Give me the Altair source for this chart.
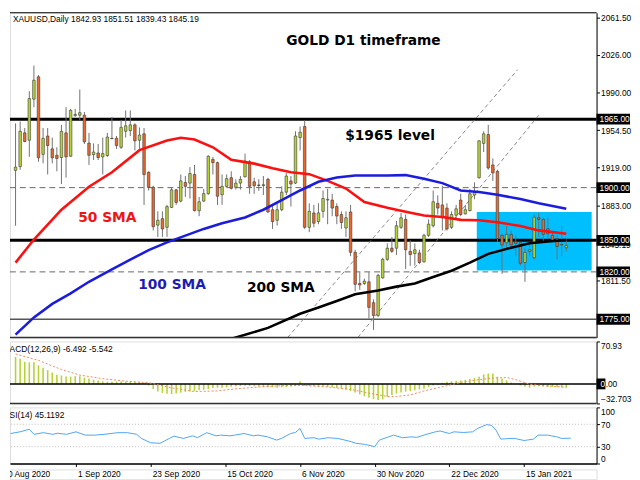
import altair as alt
import pandas as pd

# ---------------- values ----------------
# daily candles, 12 Aug 2020 (index 0) ... last bar (index 120)
opens = [1916.4, 1920.0, 1952.0, 1945.0, 1984.0, 2005.2, 1931.6, 1949.0, 1936.8, 1930.7,
         1928.6, 1952.0, 1929.8, 1968.5, 1968.8, 1968.8, 1942.3, 1931.3, 1932.9, 1929.2,
         1930.4, 1946.9, 1946.9, 1938.3, 1953.5, 1954.1, 1959.6, 1945.0, 1951.1, 1914.6,
         1900.3, 1864.4, 1870.5, 1862.3, 1881.2, 1897.9, 1887.2, 1904.9, 1904.3, 1912.5,
         1878.1, 1887.2, 1894.2, 1926.8, 1923.7, 1893.3, 1901.2, 1909.4, 1900.3, 1904.3,
         1910.4, 1924.6, 1905.5, 1902.5, 1902.0, 1907.9, 1879.0, 1869.0, 1879.0, 1895.7,
         1906.4, 1904.3, 1947.5, 1958.0, 1862.3, 1876.0, 1867.8, 1877.5, 1888.2, 1888.2,
         1882.1, 1874.5, 1861.7, 1876.9, 1838.6, 1809.0, 1809.0, 1810.6, 1790.8, 1778.7,
         1814.3, 1831.9, 1842.5, 1842.5, 1862.3, 1869.9, 1839.5, 1837.4, 1838.0, 1829.5,
         1854.7, 1863.8, 1885.1, 1883.6, 1880.6, 1862.3, 1873.8, 1888.2, 1875.1, 1878.1,
         1893.0, 1909.4, 1942.0, 1950.5, 1921.6, 1915.5, 1854.7, 1847.7, 1855.6, 1848.6,
         1847.7, 1828.9, 1839.5, 1833.4, 1871.4, 1869.9, 1860.8, 1854.7, 1851.7, 1845.6,
         1842.93]
highs = [1961.0, 1962.7, 1956.6, 1991.6, 2015.9, 2006.8, 1956.6, 1956.6, 1947.5, 1938.3,
         1959.6, 1976.4, 1974.8, 1974.8, 1993.1, 1971.8, 1952.0, 1942.0, 1941.4, 1947.5,
         1952.0, 1967.2, 1949.0, 1964.2, 1973.3, 1973.3, 1961.1, 1957.2, 1956.6, 1915.5,
         1901.8, 1877.5, 1877.5, 1883.6, 1900.3, 1898.8, 1912.5, 1911.0, 1919.5, 1921.6,
         1891.2, 1898.8, 1930.7, 1929.2, 1924.6, 1912.5, 1912.5, 1915.5, 1907.9, 1911.0,
         1932.3, 1926.2, 1909.4, 1908.0, 1911.0, 1909.4, 1883.6, 1885.0, 1901.2, 1914.0,
         1911.0, 1953.5, 1958.0, 1964.0, 1885.1, 1883.6, 1885.1, 1897.3, 1898.8, 1894.2,
         1885.1, 1877.5, 1877.5, 1883.6, 1841.0, 1819.7, 1813.6, 1819.7, 1793.9, 1818.2,
         1833.4, 1847.1, 1853.2, 1868.4, 1876.0, 1874.5, 1850.1, 1847.0, 1841.0, 1856.2,
         1869.9, 1897.3, 1892.7, 1901.8, 1885.1, 1877.5, 1883.6, 1894.2, 1883.6, 1898.8,
         1905.0, 1945.0, 1953.5, 1959.6, 1927.7, 1917.0, 1856.2, 1863.8, 1859.3, 1854.7,
         1848.6, 1842.5, 1847.1, 1874.5, 1876.0, 1871.4, 1871.4, 1857.7, 1854.7, 1863.8,
         1851.51]
lows = [1863.8, 1917.0, 1943.0, 1929.2, 1976.4, 1924.6, 1923.1, 1912.5, 1923.1, 1915.5,
        1903.4, 1909.5, 1929.2, 1967.2, 1964.2, 1941.4, 1921.6, 1926.2, 1926.2, 1912.5,
        1929.2, 1946.0, 1936.8, 1936.8, 1947.5, 1949.0, 1935.3, 1936.8, 1883.6, 1897.3,
        1859.3, 1853.2, 1853.2, 1853.2, 1880.6, 1883.6, 1886.0, 1891.2, 1889.7, 1877.5,
        1872.9, 1886.6, 1893.3, 1912.5, 1883.6, 1883.6, 1900.3, 1898.2, 1898.2, 1898.2,
        1909.5, 1894.2, 1894.2, 1897.0, 1893.0, 1876.0, 1860.8, 1864.0, 1877.5, 1893.0,
        1882.0, 1903.4, 1935.3, 1860.8, 1857.7, 1862.3, 1865.3, 1871.4, 1865.3, 1872.9,
        1865.3, 1860.8, 1853.2, 1834.9, 1801.5, 1803.0, 1807.6, 1775.6, 1765.0, 1777.2,
        1813.6, 1830.4, 1838.0, 1836.0, 1860.8, 1822.8, 1825.8, 1826.0, 1827.3, 1828.9,
        1853.2, 1862.3, 1874.5, 1859.3, 1859.3, 1860.8, 1869.9, 1872.9, 1874.5, 1877.5,
        1889.0, 1908.5, 1933.8, 1917.0, 1906.4, 1848.6, 1818.2, 1841.0, 1841.0, 1834.9,
        1825.8, 1810.6, 1834.9, 1831.9, 1853.2, 1848.6, 1851.7, 1848.6, 1831.9, 1834.9,
        1839.43]
closes = [1919.5, 1953.5, 1943.8, 1984.6, 2002.0, 1928.3, 1946.8, 1939.9, 1928.3, 1927.7,
          1953.5, 1929.2, 1973.3, 1969.5, 1971.2, 1943.5, 1930.7, 1933.8, 1928.6, 1932.3,
          1948.0, 1946.5, 1939.9, 1957.2, 1958.7, 1959.6, 1944.4, 1949.9, 1912.5, 1900.3,
          1862.9, 1869.0, 1860.8, 1882.0, 1897.9, 1886.0, 1906.4, 1901.2, 1913.4, 1878.1,
          1886.6, 1894.3, 1929.8, 1923.7, 1891.8, 1901.2, 1908.5, 1899.4, 1904.3, 1907.9,
          1925.3, 1901.2, 1901.8, 1902.1, 1902.8, 1876.9, 1867.8, 1879.0, 1895.7, 1911.0,
          1903.4, 1949.0, 1952.6, 1862.3, 1877.5, 1866.2, 1876.0, 1889.7, 1888.9, 1880.6,
          1873.0, 1866.9, 1871.4, 1838.6, 1808.2, 1807.6, 1811.2, 1786.3, 1778.7, 1816.7,
          1831.9, 1842.5, 1839.5, 1863.8, 1871.4, 1841.0, 1836.5, 1841.0, 1828.9, 1854.7,
          1865.3, 1886.6, 1880.6, 1871.4, 1860.8, 1874.5, 1879.9, 1874.5, 1879.0, 1894.2,
          1896.0, 1944.4, 1951.1, 1918.6, 1914.0, 1851.7, 1845.6, 1855.6, 1845.6, 1847.0,
          1828.2, 1838.6, 1841.0, 1872.0, 1869.9, 1855.6, 1856.2, 1850.1, 1844.1, 1846.0,
          1845.19]

# moving averages (bar index, price)
sma50_idx = [0, 4, 10, 16, 21, 27, 33, 36, 39, 43, 47, 52, 56, 60, 64, 68, 72, 76, 81, 85,
             89, 93, 97, 101, 105, 110, 114, 120]
sma50_val = [1828.8, 1850.7, 1879.0, 1900.9, 1914.6, 1935.6, 1944.7, 1947.4, 1945.6, 1938.3,
             1926.5, 1922.8, 1918.3, 1914.6, 1912.8, 1906.4, 1899.1, 1886.3, 1880.8, 1877.2,
             1873.5, 1872.2, 1869.4, 1869.0, 1867.2, 1863.5, 1859.4, 1856.2]
sma100_idx = [0, 4, 8, 12, 16, 21, 25, 29, 33, 37, 41, 45, 50, 54, 58, 62, 66, 70, 74, 81,
              85, 89, 93, 97, 101, 105, 110, 114, 120]
sma100_val = [1760.4, 1776.8, 1789.6, 1799.6, 1810.6, 1822.5, 1831.6, 1840.7, 1848.0, 1854.4,
              1860.8, 1866.2, 1871.7, 1879.0, 1888.1, 1897.3, 1905.5, 1909.6, 1911.6, 1911.6,
              1911.9, 1908.5, 1904.3, 1897.3, 1895.9, 1893.3, 1889.1, 1885.1, 1879.9]
sma200_idx = [45, 48, 55, 62, 66, 70, 74, 79, 83, 87, 91, 95, 99, 103, 108, 112, 116, 120]
sma200_val = [1754.0, 1757.7, 1766.8, 1780.2, 1786.2, 1792.3, 1798.7, 1802.4, 1806.0, 1809.0,
              1815.2, 1821.1, 1828.8, 1837.1, 1843.0, 1847.1, 1848.9, 1850.3]

# MACD(12,26,9): histogram per bar, signal line points
macd_hist = [45, 42, 37, 36, 36, 31, 27, 23, 19, 15.5,
             14, 12.5, 12.2, 12.8, 12.8, 10.5, 9, 7, 5.5, 4.3,
             3.6, 3.6, 4, 4.5, 3.8, 3.6, 3.6, 3.2, 1.8, -2.5,
             -8.5, -12.5, -15, -16.3, -16.8, -16, -14.5, -13.3, -12.8, -11.8,
             -10.8, -9.8, -8.5, -6.8, -6.6, -6.6, -5.8, -4.8, -4.2, -3.3,
             -3.1, -3.4, -4.0, -4.6, -5.4, -5.4, -5.8, -6.4, -5.6, -5.1,
             -4.3, -3.4, 4.6, -3.2, -3.6, -4.1, -4.6, -4.8, -5.1, -5.8,
             -6.8, -8.0, -9.6, -11.8, -14.5, -17.5, -20.6, -23.2, -25.6, -27.0,
             -26.0, -21.5, -18.6, -16.0, -14.5, -13.0, -11.8, -10.4, -9.3, -7.9,
             -5.5, -2.8, -1.2, 1.8, 3.4, 4.4, 5.0, 5.8, 6.8, 8.2,
             9.8, 12.0, 16.0, 17.3, 17.3, 12.0, 9.0, 5.8, 2.5, -0.6,
             -2.6, -4.6, -6.4, -4.4, -4.1, -4.4, -5.0, -5.1, -5.5, -6.0,
             -6.492]
signal_idx = [0, 5, 10, 14, 19, 24, 29, 34, 39, 44, 48, 53, 58, 63, 68, 73, 78, 81, 83, 86,
              89, 94, 97, 100, 104, 107, 109, 112, 115, 120]
signal_val = [50, 39.3, 24, 14.8, 8.7, 4.6, 2, -6.6, -12.8, -11.7, -8.2, -5.1, -3.1, -2.6,
              -5.1, -9.2, -16.8, -21, -21, -18.4, -11.7, -3.1, 2.6, 6.1, 9.7, 10.7, 7.1,
              -0.5, -3.1, -5.542]

# RSI(14)
rsi_idx = [0, 2, 4, 5, 7, 9, 10, 12, 14, 16, 18, 20, 23, 25, 27, 28, 30, 32, 34, 35,
           37, 39, 40, 42, 44, 45, 47, 48, 50, 52, 53, 55, 57, 58, 60, 61, 62, 63, 65, 66,
           68, 70, 71, 73, 74, 76, 78, 79, 81, 82, 84, 86, 87, 89, 91, 92, 94, 95, 97, 99,
           100, 102, 103, 104, 105, 107, 108, 110, 112, 113, 115, 117, 118, 120]
rsi_val = [53.5, 56.5, 61, 52, 55, 52, 54, 52, 56.5, 50.6, 50.6, 52, 55, 55, 52, 44.7, 37, 36,
           44.7, 48.8, 44.7, 49.4, 46, 55, 49.4, 50.6, 49.4, 50.6, 53.5, 49.4, 50.6, 47.6,
           41.8, 44.7, 53.5, 55.3, 62.4, 44.7, 46, 43.5, 46, 44.7, 43, 38.8, 36, 34, 30, 41.8,
           47.6, 50.6, 46, 47.6, 46.5, 51.8, 56.5, 58, 53.5, 56.5, 55.3, 56.5, 62.4, 69.4, 68,
           59.4, 43.5, 44.7, 44.7, 41, 43.5, 50.6, 50.6, 47.6, 44.7, 45.1192]

# horizontal levels and objects
thick_levels = [1965, 1850]
dashed_levels = [1900, 1820]
thin_levels = [1775]
boxed_levels = [1965, 1900, 1850, 1820, 1775]
price_ticks = [2061.5, 2026, 1990, 1954.5, 1919, 1883, 1811.5]
macd_ticks = [70.93, 0, -32.703]
rsi_ticks = [100, 70, 30, 0]
rsi_levels = [70, 30]
channel_id = ["upper", "upper", "lower", "lower"]
channel_idx = [59.3, 109.4, 74.6, 114.4]
channel_val = [1757.7, 2012.0, 1757.7, 1970.9]
zone_idx = [100.5, 125.53]
zone_val = [1876.9, 1821.3]
date_idx = [-2, 14, 30, 46, 62, 78, 94, 110]
date_labels = ["10 Aug 2020", "1 Sep 2020", "23 Sep 2020", "15 Oct 2020",
               "6 Nov 2020", "30 Nov 2020", "22 Dec 2020", "15 Jan 2021"]

# ---------------- layout ----------------
W = 596
H_MAIN, H_MACD, H_RSI, H_DATE = 330, 63, 57, 10
X_DOM = [-0.145, 125.53]
Y_DOM = [1757.67, 2066.06]
MACD_DOM = [-32.703, 70.93]
RSI_DOM = [0, 100]
FONT = "Liberation Sans"
FS = 8.5
UP, DOWN = "#b6d336", "#e9692c"

xsc = alt.Scale(domain=X_DOM, nice=False, zero=False)
ysc = alt.Scale(domain=Y_DOM, nice=False, zero=False)
msc = alt.Scale(domain=MACD_DOM, nice=False, zero=False)
rsc = alt.Scale(domain=RSI_DOM, nice=False, zero=False)

common_ax = dict(orient="right", title=None, grid=False, tickSize=3, labelPadding=1,
                 labelFont=FONT, labelFontSize=FS, labelColor="black",
                 domainColor="black", tickColor="black")
yax = alt.Axis(values=price_ticks, format=".2f", **common_ax)
max_ax = alt.Axis(values=macd_ticks, labelFlush=True,
                  labelExpr="datum.value < -1 ? format(datum.value, '.3f') : format(datum.value, '.2f')",
                  **common_ax)
rax = alt.Axis(values=rsi_ticks, format="d", labelFlush=True, **common_ax)
rsi_xax = alt.Axis(values=date_idx[1:], labels=False, tickSize=3, title=None, grid=False,
                   domainColor="black", tickColor="black", domainWidth=1.5)


def X(f):
    return alt.X(f, type="quantitative", scale=xsc, axis=None)


def Y(f):
    return alt.Y(f, type="quantitative", scale=ysc, axis=yax)


one = pd.DataFrame({"a": [0]})

# ---------------- main panel ----------------
cdf = pd.DataFrame({"idx": list(range(len(opens))), "open": opens, "high": highs,
                    "low": lows, "close": closes})
cdf["lo"] = cdf[["open", "close"]].min(axis=1)
cdf["hi"] = cdf[["open", "close"]].max(axis=1)

zone = alt.Chart(pd.DataFrame({"x0": [zone_idx[0]], "x1": [zone_idx[1]],
                               "y0": [zone_val[0]], "y1": [zone_val[1]]})).mark_rect(
    color="#00bfff").encode(x=X("x0"), x2="x1", y=Y("y0"), y2="y1")

thick = alt.Chart(pd.DataFrame({"lv": thick_levels})).mark_rule(
    color="black", strokeWidth=3).encode(y=Y("lv"))
dashed = alt.Chart(pd.DataFrame({"lv": dashed_levels})).mark_rule(
    color="#666666", strokeWidth=1, strokeDash=[6, 4]).encode(y=Y("lv"))
thin = alt.Chart(pd.DataFrame({"lv": thin_levels})).mark_rule(
    color="#555555", strokeWidth=1.5).encode(y=Y("lv"))

channel = alt.Chart(pd.DataFrame({"id": channel_id, "idx": channel_idx, "v": channel_val})).mark_line(
    color="#7a7a7a", strokeWidth=0.9, strokeDash=[4, 3], clip=True).encode(
    x=X("idx"), y=Y("v"), detail="id:N")

wicks = alt.Chart(cdf).mark_rule(color="#707070", strokeWidth=1, clip=True).encode(
    x=X("idx"), y=Y("low"), y2="high")
bodies = alt.Chart(cdf).mark_bar(size=2.6, stroke="#3a3a3a", strokeWidth=0.6, clip=True).encode(
    x=X("idx"), y=Y("lo"), y2="hi",
    color=alt.condition("datum.close >= datum.open", alt.value(UP), alt.value(DOWN)))


def sma(idx, val, color):
    return alt.Chart(pd.DataFrame({"idx": idx, "v": val})).mark_line(
        color=color, strokeWidth=2.6, clip=True).encode(x=X("idx"), y=Y("v"))


s50 = sma(sma50_idx, sma50_val, "#ff1010")
s100 = sma(sma100_idx, sma100_val, "#1c1cdc")
s200 = sma(sma200_idx, sma200_val, "#000000")

ann = pd.DataFrame({
    "t": ["GOLD D1 timeframe", "$1965 level", "50 SMA", "100 SMA", "200 SMA"],
    "idx": [75.8, 81.6, 20.0, 34.1, 57.8],
    "v": [2039.6, 1949.0, 1870.8, 1807.6, 1805.1],
    "c": ["#000000", "#000000", "#f01414", "#1d1db4", "#000000"],
})
ann_text = alt.Chart(ann).mark_text(font="DejaVu Sans", fontWeight="bold", fontSize=14,
                                    align="center", baseline="middle").encode(
    x=X("idx"), y=Y("v"), text="t:N", color=alt.Color("c:N", scale=None))

title_str = "XAUUSD,Daily  {} {} {} {}".format(opens[-1], highs[-1], lows[-1], closes[-1])
title_main = alt.Chart(pd.DataFrame({"t": [title_str]})).mark_text(
    font=FONT, fontSize=FS, align="left", baseline="middle", color="black").encode(
    x=alt.value(3), y=alt.value(6), text="t:N")

last_lbl = alt.Chart(pd.DataFrame({"v": [closes[-1]], "t": ["{:.2f}".format(closes[-1])]})).mark_text(
    font=FONT, fontSize=FS, align="left", baseline="middle", color="black").encode(
    x=alt.value(W + 4), y=Y("v"), text="t:N")

ppp = (Y_DOM[1] - Y_DOM[0]) / H_MAIN
bdf = pd.DataFrame({"lv": boxed_levels})
bdf["top"] = bdf["lv"] + 5.5 * ppp
bdf["bot"] = bdf["lv"] - 5.5 * ppp
bdf["t"] = bdf["lv"].map(lambda v: "{:.2f}".format(v))
boxes = alt.Chart(bdf).mark_rect(color="black").encode(
    x=alt.value(W), x2=alt.value(W + 34), y=Y("top"), y2="bot")
box_txt = alt.Chart(bdf).mark_text(font=FONT, fontSize=FS, align="left", baseline="middle",
                                   color="white").encode(
    x=alt.value(W + 3), y=Y("lv"), text="t:N")

top_border = alt.Chart(one).mark_rule(color="black", strokeWidth=1).encode(y=alt.value(0))
bottom_main = alt.Chart(one).mark_rule(color="#333333", strokeWidth=1.5).encode(y=alt.value(H_MAIN))

main = alt.layer(zone, thick, dashed, thin, channel, wicks, bodies, s50, s100, s200,
                 ann_text, title_main, last_lbl, boxes, box_txt, top_border, bottom_main
                 ).properties(width=W, height=H_MAIN)

# ---------------- MACD panel ----------------
mdf = pd.DataFrame({"idx": list(range(len(macd_hist))), "v": macd_hist})
hist = alt.Chart(mdf).mark_bar(size=1.6, color="#b6d336").encode(
    x=alt.X("idx:Q", scale=xsc, axis=None),
    y=alt.Y("v:Q", scale=msc, axis=max_ax), y2=alt.datum(0))
zero_line = alt.Chart(pd.DataFrame({"z": [0]})).mark_rule(color="black", strokeWidth=1.5).encode(
    y=alt.Y("z:Q", scale=msc, axis=max_ax))
sig = alt.Chart(pd.DataFrame({"idx": signal_idx, "v": signal_val})).mark_line(
    color="#f08a62", strokeWidth=1, strokeDash=[2, 2]).encode(
    x=alt.X("idx:Q", scale=xsc, axis=None), y=alt.Y("v:Q", scale=msc, axis=max_ax))
macd_title = alt.Chart(pd.DataFrame({"t": ["MACD(12,26,9) {} {}".format(macd_hist[-1], signal_val[-1])]})).mark_text(
    font=FONT, fontSize=FS, align="left", baseline="middle", color="black", clip=True).encode(
    x=alt.value(-7.5), y=alt.value(8), text="t:N")
mppp = (MACD_DOM[1] - MACD_DOM[0]) / H_MACD
zbox = alt.Chart(pd.DataFrame({"a": [5.5 * mppp], "b": [-5.5 * mppp]})).mark_rect(color="black").encode(
    x=alt.value(W), x2=alt.value(W + 9),
    y=alt.Y("a:Q", scale=msc, axis=max_ax), y2="b")
zbox_txt = alt.Chart(pd.DataFrame({"z": [0], "t": ["0"]})).mark_text(
    font=FONT, fontSize=FS, align="left", baseline="middle", color="white").encode(
    x=alt.value(W + 4), y=alt.Y("z:Q", scale=msc, axis=max_ax), text="t:N")
bottom_macd = alt.Chart(one).mark_rule(color="#333333", strokeWidth=1.5).encode(y=alt.value(H_MACD))

macd = alt.layer(hist, zero_line, sig, macd_title, zbox, zbox_txt, bottom_macd).properties(
    width=W, height=H_MACD)

# ---------------- RSI panel ----------------
rlev = alt.Chart(pd.DataFrame({"lv": rsi_levels})).mark_rule(
    color="#bdbdbd", strokeWidth=1, strokeDash=[1, 2]).encode(
    y=alt.Y("lv:Q", scale=rsc, axis=rax))
rline = alt.Chart(pd.DataFrame({"idx": rsi_idx, "v": rsi_val})).mark_line(
    color="#4fa5f0", strokeWidth=1).encode(
    x=alt.X("idx:Q", scale=xsc, axis=rsi_xax), y=alt.Y("v:Q", scale=rsc, axis=rax))
rsi_title = alt.Chart(pd.DataFrame({"t": ["RSI(14) {}".format(rsi_val[-1])]})).mark_text(
    font=FONT, fontSize=FS, align="left", baseline="middle", color="black", clip=True).encode(
    x=alt.value(-6.5), y=alt.value(8), text="t:N")

rsi = alt.layer(rlev, rline, rsi_title).properties(width=W, height=H_RSI)

# ---------------- date labels ----------------
dates = alt.Chart(pd.DataFrame({"idx": date_idx, "t": date_labels})).mark_text(
    font=FONT, fontSize=FS, align="left", baseline="middle", color="black", dx=2, clip=True).encode(
    x=alt.X("idx:Q", scale=xsc, axis=None), y=alt.value(5), text="t:N"
).properties(width=W, height=H_DATE)

chart = alt.vconcat(main, macd, rsi, dates, spacing=1, padding=0).configure_view(
    strokeOpacity=0).configure(background="white")

chart.save("out.html", embed_options={"renderer": "svg", "actions": False})
